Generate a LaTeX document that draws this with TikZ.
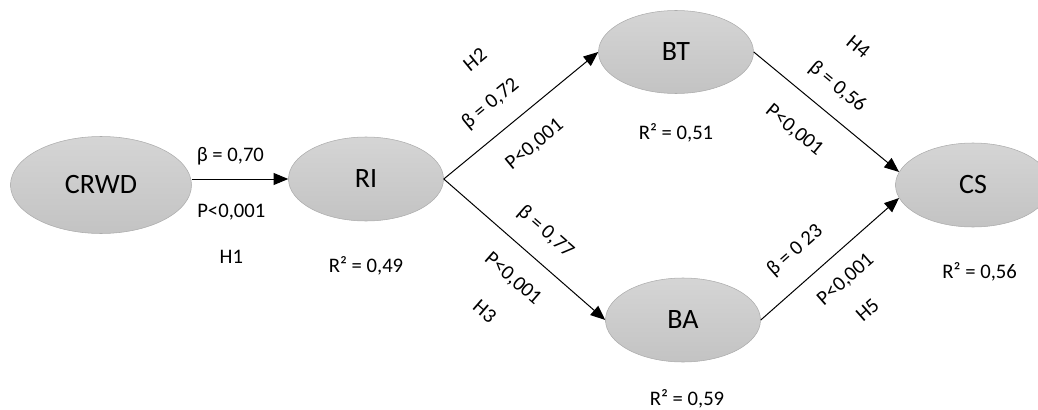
\documentclass[tikz,border=0pt]{standalone}
\usepackage{fontspec}
\setmainfont{Carlito}
\usetikzlibrary{shapes.geometric, arrows.meta, positioning}

\begin{document}
\begin{tikzpicture}[
    x=0.75pt, y=-0.75pt,
    >={Triangle[length=11pt, width=9pt]},
    construct/.style={ellipse, draw=gray!65, top color=gray!33, bottom color=gray!47, minimum width=116.25pt, minimum height=63pt, inner sep=0pt, font=\fontsize{21}{24}\selectfont},
    coef/.style={sloped, inner sep=0pt, font=\fontsize{15.5}{18}\selectfont},
    rsq/.style={inner sep=0pt, font=\fontsize{15.5}{18}\selectfont},
    path_arrow/.style={->, draw=black, line width=0.75pt}
]
\clip (0,0) rectangle (1038,410);

% Nodes
\node (crwd) [construct, minimum width=135.75pt, minimum height=72.75pt] at (101,185) {CRWD};
\node (ri) [construct] at (366,179) {RI};
\node (bt) [construct, minimum height=62.25pt] at (676,52) {BT};
\node (ba) [construct] at (683,320) {BA};
\node (cs) [construct] at (973,185) {CS};

% R squared
\node (ri_r2) [rsq, below=26pt of ri] {R² = 0,49};
\node (bt_r2) [rsq, below=22pt of bt] {R² = 0,51};
\node (ba_r2) [rsq, below=20pt of ba, xshift=3pt] {R² = 0,59};
\node (cs_r2) [rsq, below=26pt of cs, xshift=5pt] {R² = 0,56};

% Paths
\draw [path_arrow] (crwd.east |- ri.west) -- (ri.west)
    node[coef, pos=0.4, yshift=17.3pt] {β = 0,70}
    node[coef, pos=0.41, yshift=-24.8pt] {P<0,001}
    node[coef, pos=0.41, yshift=-58.5pt] {H1};
\draw [path_arrow] (ri.east) -- (bt.west)
    node[coef, pos=0.42, yshift=21.2pt] {β = 0,72}
    node[coef, pos=0.46, yshift=-23.4pt] {P<0,001}
    node[coef, pos=0.5, yshift=54.4pt] {H2};
\draw [path_arrow] (ri.east) -- (ba.west)
    node[coef, pos=0.52, yshift=20.3pt] {β = 0,77}
    node[coef, pos=0.55, yshift=-22.6pt] {P<0,001}
    node[coef, pos=0.55, yshift=-54.5pt] {H3};
\draw [path_arrow] (bt.east) -- (cs.170)
    node[coef, pos=0.46, yshift=19.7pt] {β = 0,56}
    node[coef, pos=0.43, yshift=-26pt] {P<0,001}
    node[coef, pos=0.41, yshift=53pt] {H4};
\draw [path_arrow] (ba.east) -- (cs.190)
    node[coef, pos=0.39, yshift=22.1pt] {β = 0 23}
    node[coef, pos=0.49, yshift=-19.5pt] {P<0,001}
    node[coef, pos=0.47, yshift=-47.3pt] {H5};

\end{tikzpicture}
\end{document}
